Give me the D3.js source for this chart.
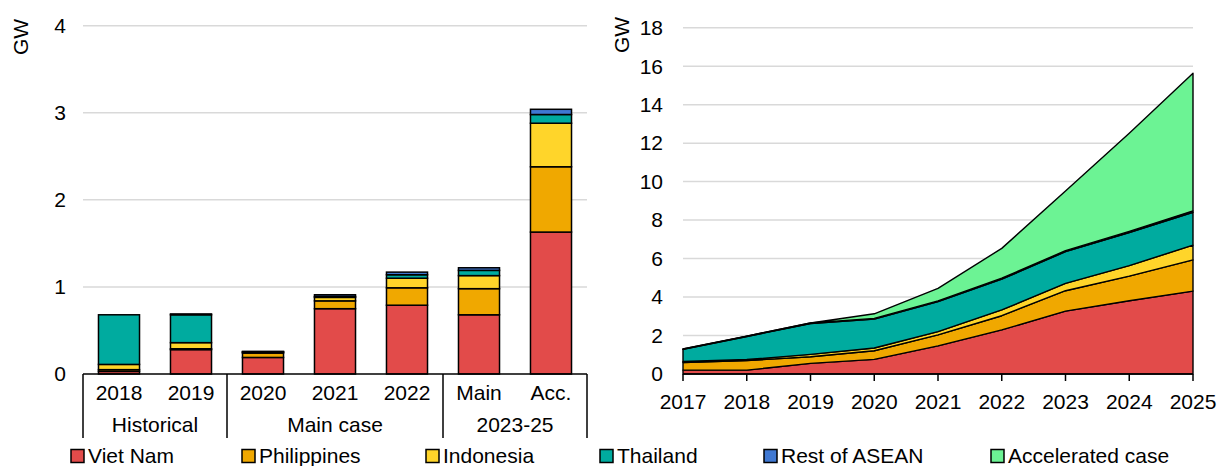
<!DOCTYPE html>
<html>
<head>
<meta charset="utf-8">
<script src="https://cdn.jsdelivr.net/npm/d3@7"></script>
<style>
  body { margin: 0; background: #fff; }
  svg { font-family: "Liberation Sans", Arial, sans-serif; }
</style>
</head>
<body>
<div id="chart"></div>
<script>
// Left chart: annual additions by category
const barCategories = ["2018", "2019", "2020", "2021", "2022", "Main", "Acc."];
const barGroups = [
  { name: "Historical", members: ["2018", "2019"] },
  { name: "Main case", members: ["2020", "2021", "2022"] },
  { name: "2023-25", members: ["Main", "Acc."] }
];
const barVietNam     = [0.03, 0.28, 0.19, 0.75, 0.79, 0.68, 1.63];
const barPhilippines = [0.02, 0.01, 0.05, 0.09, 0.20, 0.30, 0.75];
const barIndonesia   = [0.06, 0.07, 0.01, 0.04, 0.11, 0.15, 0.50];
const barThailand    = [0.57, 0.32, 0.005, 0.01, 0.04, 0.06, 0.10];
const barRestASEAN   = [0.00, 0.01, 0.005, 0.02, 0.03, 0.03, 0.06];
const barTicks = [0, 1, 2, 3, 4];

// Right chart: cumulative capacity
const years = [2017, 2018, 2019, 2020, 2021, 2022, 2023, 2024, 2025];
const areaVietNam     = [0.20, 0.20, 0.55, 0.76, 1.46, 2.29, 3.27, 3.81, 4.31];
const areaPhilippines = [0.40, 0.50, 0.35, 0.45, 0.57, 0.74, 1.06, 1.28, 1.62];
const areaIndonesia   = [0.05, 0.05, 0.12, 0.14, 0.17, 0.30, 0.38, 0.54, 0.77];
const areaThailand    = [0.63, 1.20, 1.60, 1.50, 1.56, 1.60, 1.65, 1.72, 1.70];
const areaRestASEAN   = [0.02, 0.02, 0.03, 0.04, 0.04, 0.05, 0.05, 0.06, 0.08];
const areaAccelerated = [0.00, 0.00, 0.00, 0.24, 0.65, 1.55, 3.10, 5.10, 7.15];
const areaTicks = [0, 2, 4, 6, 8, 10, 12, 14, 16, 18];

const seriesNames = ["Viet Nam", "Philippines", "Indonesia", "Thailand", "Rest of ASEAN", "Accelerated case"];
const seriesColors = ["#e24b4a", "#f0a800", "#ffd52a", "#00ab9f", "#3f78d2", "#6cf394"];

const width = 1218, height = 466;
const svg = d3.select("#chart").append("svg")
    .attr("width", width)
    .attr("height", height);

const fontSize = 21;

// ---------- left chart ----------
const xBar = d3.scaleBand()
    .domain(barCategories)
    .range([83, 587])
    .paddingInner(0.43)
    .paddingOuter(0.215);
const yBar = d3.scaleLinear().domain([0, 4]).range([374, 25.7]);

const left = svg.append("g");

left.append("g").selectAll("line")
  .data(barTicks.filter(d => d > 0))
  .join("line")
    .attr("x1", 83).attr("x2", 587)
    .attr("y1", d => yBar(d)).attr("y2", d => yBar(d))
    .attr("stroke", "#d9d9d9").attr("stroke-width", 1.5);

left.append("g").selectAll("text")
  .data(barTicks)
  .join("text")
    .attr("x", 66).attr("y", d => yBar(d))
    .attr("dy", "0.35em")
    .attr("text-anchor", "end")
    .attr("font-size", fontSize)
    .text(d => d);

const barRows = barCategories.map((c, i) => ({
  cat: c,
  "Viet Nam": barVietNam[i],
  "Philippines": barPhilippines[i],
  "Indonesia": barIndonesia[i],
  "Thailand": barThailand[i],
  "Rest of ASEAN": barRestASEAN[i]
}));
const barStack = d3.stack().keys(seriesNames.slice(0, 5))(barRows);

left.append("g").selectAll("g")
  .data(barStack)
  .join("g")
    .attr("fill", (d, i) => seriesColors[i])
  .selectAll("rect")
  .data(d => d)
  .join("rect")
    .attr("x", d => xBar(d.data.cat))
    .attr("width", xBar.bandwidth())
    .attr("y", d => yBar(d[1]))
    .attr("height", d => yBar(d[0]) - yBar(d[1]))
    .attr("stroke", "#000")
    .attr("stroke-width", 1.5);

// category axis with group boxes
const half = xBar.step() * xBar.paddingInner() / 2;
left.append("line")
    .attr("x1", 83).attr("x2", 587)
    .attr("y1", 374).attr("y2", 374)
    .attr("stroke", "#000").attr("stroke-width", 1.5);

const sepX = [83].concat(barGroups.map(g => xBar(g.members[g.members.length - 1]) + xBar.bandwidth() + half));
left.append("g").selectAll("line")
  .data(sepX)
  .join("line")
    .attr("x1", d => d).attr("x2", d => d)
    .attr("y1", 374).attr("y2", 438)
    .attr("stroke", "#000").attr("stroke-width", 1.5);

left.append("g").selectAll("text")
  .data(barCategories)
  .join("text")
    .attr("x", d => xBar(d) + xBar.bandwidth() / 2)
    .attr("y", 400)
    .attr("text-anchor", "middle")
    .attr("font-size", fontSize)
    .text(d => d);

left.append("g").selectAll("text")
  .data(barGroups)
  .join("text")
    .attr("x", (g, i) => (sepX[i] + sepX[i + 1]) / 2)
    .attr("y", 432)
    .attr("text-anchor", "middle")
    .attr("font-size", fontSize)
    .text(g => g.name);

left.append("text")
    .attr("transform", "translate(21,37) rotate(-90)")
    .attr("dy", "0.35em")
    .attr("text-anchor", "middle")
    .attr("font-size", fontSize)
    .text("GW");

// ---------- right chart ----------
const xArea = d3.scaleLinear().domain([2017, 2025]).range([683, 1193]);
const yArea = d3.scaleLinear().domain([0, 18]).range([374, 27.7]);

const right = svg.append("g");

right.append("g").selectAll("line")
  .data(areaTicks.filter(d => d > 0))
  .join("line")
    .attr("x1", 683).attr("x2", 1193)
    .attr("y1", d => yArea(d)).attr("y2", d => yArea(d))
    .attr("stroke", "#d9d9d9").attr("stroke-width", 1.5);

right.append("g").selectAll("text")
  .data(areaTicks)
  .join("text")
    .attr("x", 663).attr("y", d => yArea(d))
    .attr("dy", "0.35em")
    .attr("text-anchor", "end")
    .attr("font-size", fontSize)
    .text(d => d);

const areaRows = years.map((y, i) => ({
  year: y,
  "Viet Nam": areaVietNam[i],
  "Philippines": areaPhilippines[i],
  "Indonesia": areaIndonesia[i],
  "Thailand": areaThailand[i],
  "Rest of ASEAN": areaRestASEAN[i],
  "Accelerated case": areaAccelerated[i]
}));
const areaStack = d3.stack().keys(seriesNames)(areaRows);

const area = d3.area()
    .x(d => xArea(d.data.year))
    .y0(d => yArea(d[0]))
    .y1(d => yArea(d[1]));

right.append("g").selectAll("path")
  .data(areaStack)
  .join("path")
    .attr("d", area)
    .attr("fill", (d, i) => seriesColors[i])
    .attr("stroke", "#000")
    .attr("stroke-width", 1.4)
    .attr("stroke-linejoin", "round");

right.append("line")
    .attr("x1", 683).attr("x2", 1193)
    .attr("y1", 374).attr("y2", 374)
    .attr("stroke", "#000").attr("stroke-width", 1.5);

right.append("g").selectAll("line")
  .data(years)
  .join("line")
    .attr("x1", d => xArea(d)).attr("x2", d => xArea(d))
    .attr("y1", 374).attr("y2", 381)
    .attr("stroke", "#000").attr("stroke-width", 1.5);

right.append("g").selectAll("text")
  .data(years)
  .join("text")
    .attr("x", d => xArea(d))
    .attr("y", 409)
    .attr("text-anchor", "middle")
    .attr("font-size", fontSize)
    .text(d => d);

right.append("text")
    .attr("transform", "translate(622,35) rotate(-90)")
    .attr("dy", "0.35em")
    .attr("text-anchor", "middle")
    .attr("font-size", fontSize)
    .text("GW");

// ---------- legend ----------
const legendX = [71, 242, 426, 600, 764, 991];
const legend = svg.append("g").selectAll("g")
  .data(seriesNames)
  .join("g")
    .attr("transform", (d, i) => `translate(${legendX[i]},456)`);

legend.append("rect")
    .attr("x", 0).attr("y", -6.5)
    .attr("width", 13).attr("height", 13)
    .attr("fill", (d, i) => seriesColors[i])
    .attr("stroke", "#000").attr("stroke-width", 1.5);

legend.append("text")
    .attr("x", 17).attr("y", 0)
    .attr("dy", "0.35em")
    .attr("font-size", fontSize)
    .text(d => d);
</script>
</body>
</html>
